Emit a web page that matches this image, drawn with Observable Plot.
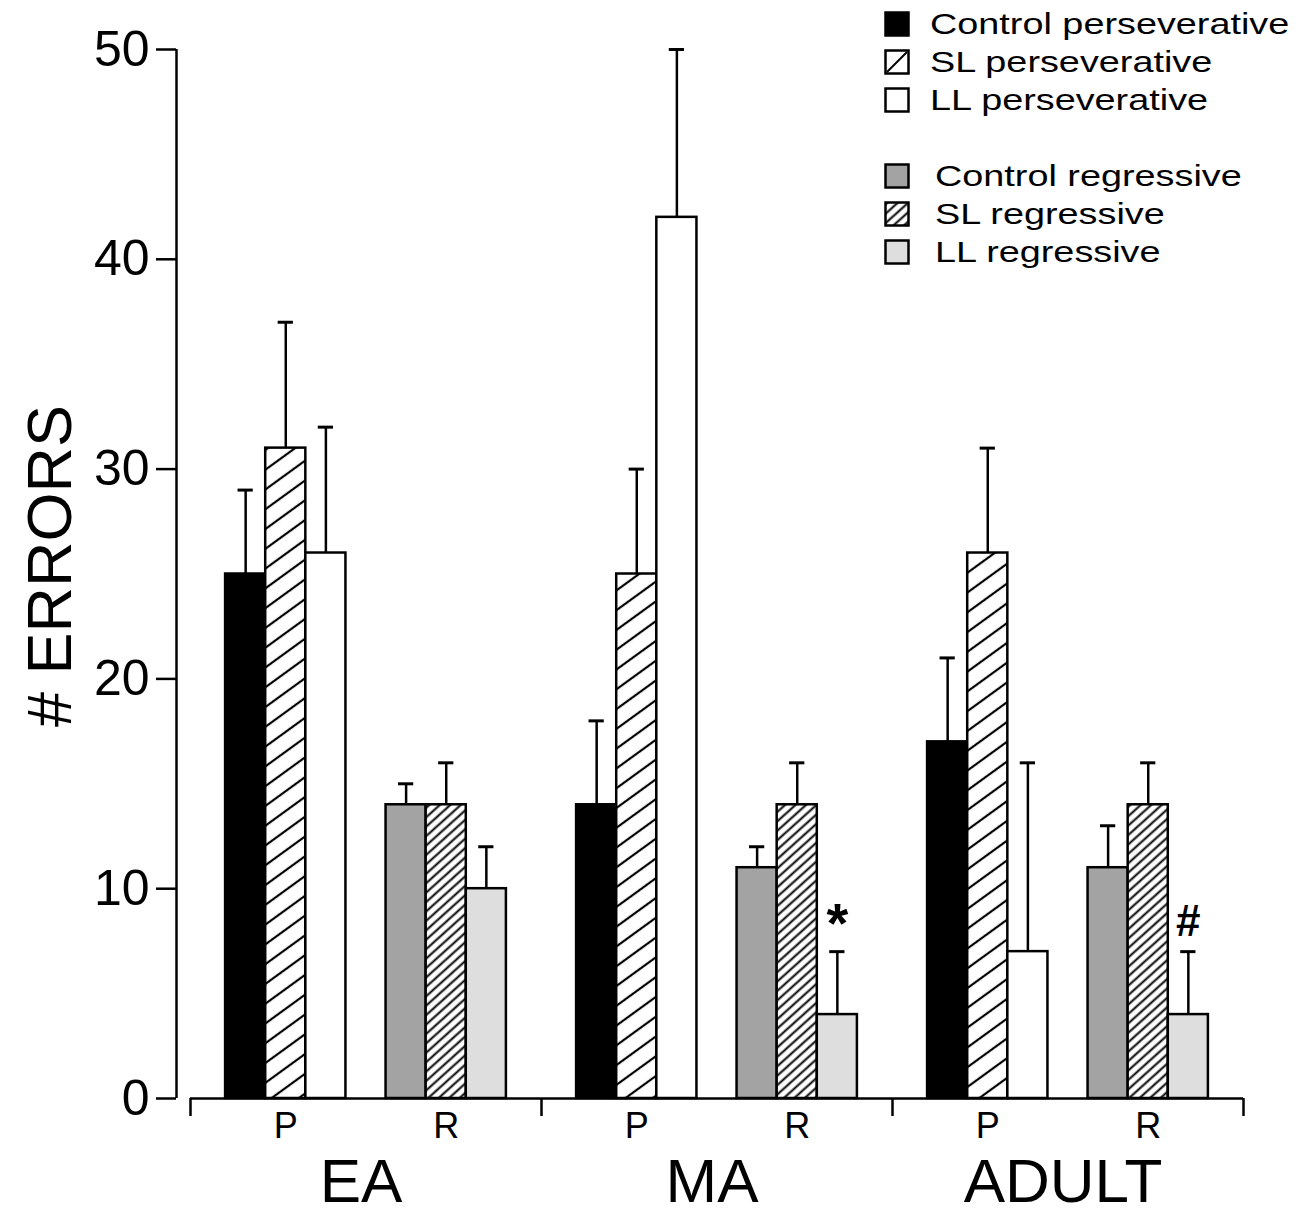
<!DOCTYPE html>
<html><head><meta charset="utf-8">
<script src="https://cdn.jsdelivr.net/npm/d3@7"></script>
<script src="https://cdn.jsdelivr.net/npm/@observablehq/plot@0.6"></script>
<style>
body{margin:0;background:#fff;}
#wrap{position:relative;width:1311px;height:1214px;font-family:"Liberation Sans",Arial,sans-serif;}
#legend{position:absolute;left:884px;top:5px;}
.row{height:38px;display:flex;align-items:center;}
.row svg{flex:none;}
.row span{display:inline-block;font-size:30px;transform:scaleX(1.26);transform-origin:left center;white-space:nowrap;color:#000;}
</style></head><body><div id="wrap"><div id="legend"></div></div>
<script>
// ---- data ----
const ages = ["EA", "MA", "ADULT"];
const types = ["P", "R"];
const groups = ["Control", "SL", "LL"];
const controlP = [25, 14, 17];
const slP = [31, 25, 26];
const llP = [26, 42, 7];
const controlPErr = [4, 4, 4];
const slPErr = [6, 5, 5];
const llPErr = [6, 8, 9];
const controlR = [14, 11, 11];
const slR = [14, 14, 14];
const llR = [10, 4, 4];
const controlRErr = [1, 1, 2];
const slRErr = [2, 2, 2];
const llRErr = [2, 3, 3];
const yTicks = [0, 10, 20, 30, 40, 50];
const typeLabels = ["P", "R"];
const markers = [{age: "MA", type: "R", group: "LL", text: "*"}, {age: "ADULT", type: "R", group: "LL", text: "#"}];
const legendLabels = ["Control perseverative", "SL perseverative", "LL perseverative", "", "Control regressive", "SL regressive", "LL regressive"];
const yLabel = "# ERRORS";

// ---- layout (in bar-width units) ----
const sectionW = 8.75, outerPad = 0.875, typeStep = 4;
const xMin = -0.349, xMax = ages.length * sectionW;
const means = {P: {Control: controlP, SL: slP, LL: llP}, R: {Control: controlR, SL: slR, LL: llR}};
const errs = {P: {Control: controlPErr, SL: slPErr, LL: llPErr}, R: {Control: controlRErr, SL: slRErr, LL: llRErr}};
const fills = {P: {Control: "black", SL: "url(#hatchP)", LL: "white"}, R: {Control: "#a3a3a3", SL: "url(#hatchR)", LL: "#dedede"}};

const bars = [];
ages.forEach((age, i) => types.forEach((type, t) => groups.forEach((g, k) => {
  const x1 = i * sectionW + outerPad + t * typeStep + k;
  bars.push({age, type, group: g, value: means[type][g][i], err: errs[type][g][i], x1, x2: x1 + 1, cx: x1 + 0.5, fill: fills[type][g]});
})));
const typeLab = [];
ages.forEach((age, i) => typeLabels.forEach((lab, t) => typeLab.push({x: i * sectionW + outerPad + t * typeStep + 1.5, text: lab})));
const ageLab = ages.map((a, i) => ({x: i * sectionW + sectionW / 2, text: a}));
const boundaries = d3.range(ages.length + 1).map(i => i * sectionW);
const markerData = markers.map(m => {
  const b = bars.find(d => d.age === m.age && d.type === m.type && d.group === m.group);
  return {x: b.cx, y: b.value + b.err, text: m.text};
});

const sw = 2.5;
const chart = Plot.plot({
  width: 1311, height: 1214,
  marginLeft: 176, marginRight: 68, marginTop: 49, marginBottom: 116,
  x: {domain: [xMin, xMax]},
  y: {domain: [0, 50]},
  color: {type: "identity"},
  style: {fontFamily: "Liberation Sans, Arial, sans-serif", color: "black", background: "white", overflow: "visible"},
  marks: [
    Plot.rect(bars, {x1: "x1", x2: "x2", y1: 0, y2: "value", fill: "fill", stroke: "black", strokeWidth: sw}),
    Plot.ruleX(bars, {x: "cx", y1: "value", y2: d => d.value + d.err, stroke: "black", strokeWidth: sw}),
    Plot.ruleY(bars, {y: d => d.value + d.err, x1: d => d.cx - 0.19, x2: d => d.cx + 0.19, stroke: "black", strokeWidth: 3}),
    Plot.ruleX([xMin], {y1: 0, y2: d3.max(yTicks), stroke: "black", strokeWidth: sw}),
    Plot.axisY({ticks: yTicks, tickSize: 20, tickPadding: 7, fontSize: 50, strokeWidth: sw, label: null}),
    Plot.ruleY([0], {x1: 0, x2: xMax, stroke: "black", strokeWidth: sw}),
    Plot.axisX({ticks: boundaries, tickSize: 18, tickFormat: () => "", strokeWidth: sw, label: null}),
    Plot.text(typeLab, {x: "x", y: 0, dy: 28, text: "text", fontSize: 36, fill: "black"}),
    Plot.text(ageLab, {x: "x", y: 0, dy: 84, dx: -5, text: "text", fontSize: 62, fill: "black"}),
    Plot.text([yLabel], {frameAnchor: "left", textAnchor: "middle", dx: -126, dy: -8, rotate: -90, text: d => d, fontSize: 63, fill: "black"}),
    Plot.text(markerData.filter(d => d.text === "*"), {x: "x", y: "y", dy: -28, text: "text", fontSize: 56, fontWeight: "bold", fill: "black"}),
    Plot.text(markerData.filter(d => d.text !== "*"), {x: "x", y: "y", dy: -30, text: "text", fontSize: 44, fontWeight: "bold", fill: "black"})
  ]
});

// hatch patterns
const defs = d3.select(chart).insert("defs", ":first-child");
function hatch(id, spacing, angle, w) {
  const p = defs.append("pattern").attr("id", id).attr("patternUnits", "userSpaceOnUse")
    .attr("width", 20).attr("height", spacing).attr("patternTransform", `rotate(${-angle})`);
  p.append("rect").attr("width", 20).attr("height", spacing).attr("fill", "white");
  p.append("line").attr("x1", -1).attr("x2", 21).attr("y1", spacing / 2).attr("y2", spacing / 2)
    .attr("stroke", "black").attr("stroke-width", w);
}
hatch("hatchP", 16, 36, 2.2);
hatch("hatchR", 7, 42, 2);

document.getElementById("wrap").appendChild(chart);
chart.style.position = "absolute"; chart.style.left = "0"; chart.style.top = "0";
const legend = document.getElementById("legend");
document.getElementById("wrap").appendChild(legend);

const legendFills = [fills.P.Control, "legSL", fills.P.LL, null, fills.R.Control, fills.R.SL, fills.R.LL];
legendLabels.forEach((lab, i) => {
  const row = document.createElement("div");
  row.className = "row";
  const f = legendFills[i];
  if (f !== null) {
    const ns = "http://www.w3.org/2000/svg";
    const s = document.createElementNS(ns, "svg");
    s.setAttribute("width", 27); s.setAttribute("height", 27);
    const r = document.createElementNS(ns, "rect");
    r.setAttribute("x", 1.5); r.setAttribute("y", 1.5); r.setAttribute("width", 23); r.setAttribute("height", 23);
    r.setAttribute("stroke", "black"); r.setAttribute("stroke-width", 2.5);
    r.setAttribute("fill", f === "legSL" ? "white" : f);
    s.appendChild(r);
    if (f === "legSL") {
      const l = document.createElementNS(ns, "line");
      l.setAttribute("x1", 3); l.setAttribute("y1", 23); l.setAttribute("x2", 23); l.setAttribute("y2", 3);
      l.setAttribute("stroke", "black"); l.setAttribute("stroke-width", 2);
      s.appendChild(l);
    }
    row.appendChild(s);
    const sp = document.createElement("span");
    sp.textContent = lab;
    sp.style.marginLeft = (i < 3 ? 19 : 24) + "px";
    row.appendChild(sp);
  }
  legend.appendChild(row);
});
</script></body></html>
